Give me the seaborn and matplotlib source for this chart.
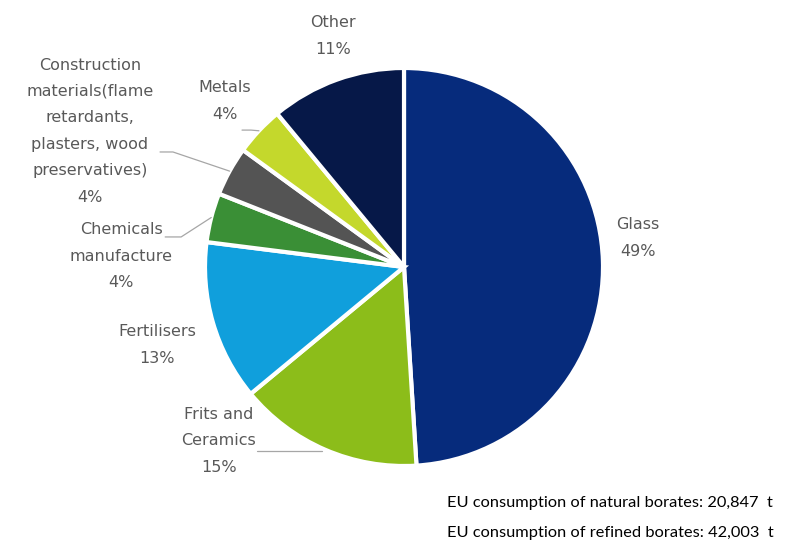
import matplotlib
matplotlib.use('Agg')
import matplotlib.pyplot as plt
import numpy as np
import seaborn as sns

sns.set_theme(style='white')
plt.rcParams['font.family'] = ['DejaVu Sans']

# data, clockwise from 12 o'clock
categories = ['Glass', 'Frits and\nCeramics', 'Fertilisers', 'Chemicals\nmanufacture',
              'Construction\nmaterials(flame\nretardants,\nplasters, wood\npreservatives)',
              'Metals', 'Other']
shares = [49, 15, 13, 4, 4, 4, 11]
colors = ['#062b7c', '#8cbd1a', '#109fdc', '#3a8f36', '#545454', '#c4d82c', '#061848']
footer = ['EU consumption of natural borates: 20,847  t',
          'EU consumption of refined borates: 42,003  t']

fig = plt.figure(figsize=(7.86, 5.53), dpi=100)
# square axes in pixels: pie centre ~(404, 267), radius ~199
ax = fig.add_axes([205 / 786, 87 / 553, 398 / 786, 398 / 553])
wedges, _ = ax.pie(shares, colors=colors, startangle=90, counterclock=False,
                   wedgeprops=dict(edgecolor='white', linewidth=3))
ax.set_xlim(-1, 1)
ax.set_ylim(-1, 1)
ax.set_aspect('equal')
ax.axis('off')

label_color = '#595959'
# label block centres (data units) and leader line start points
label_pos = [(1.176, 0.146), (-0.93, -0.874), (-1.241, -0.392), (-1.42, 0.055),
             (-1.578, 0.683), (-0.9, 0.834), (-0.357, 1.16)]
leaders = {1: [(-0.739, -0.925), (-0.412, -0.925)],
           3: [(-1.2, 0.151), (-1.12, 0.151)],
           4: [(-1.226, 0.578), (-1.161, 0.578)],
           5: [(-0.814, 0.688), (-0.769, 0.688)]}

for i, (cat, val) in enumerate(zip(categories, shares)):
    x, y = label_pos[i]
    ax.text(x, y, f'{cat}\n{val}%', ha='center', va='center', fontsize=11.5,
            color=label_color, linespacing=1.95, clip_on=False)
    if i in leaders:
        w = wedges[i]
        mid = np.deg2rad((w.theta1 + w.theta2) / 2)
        if i == 1:
            end = leaders[i][-1]
        else:
            end = (np.cos(mid), np.sin(mid))
        pts = leaders[i] + [end]
        ax.plot([p[0] for p in pts], [p[1] for p in pts], color='#a6a6a6',
                lw=0.9, clip_on=False)

fig.text(447 / 786, 1 - 503 / 553, footer[0], ha='left', va='center',
         fontsize=11.8, color='black', family=['Lato', 'DejaVu Sans'])
fig.text(447 / 786, 1 - 533 / 553, footer[1], ha='left', va='center',
         fontsize=11.8, color='black', family=['Lato', 'DejaVu Sans'])

fig.savefig('out.png', dpi=100)
